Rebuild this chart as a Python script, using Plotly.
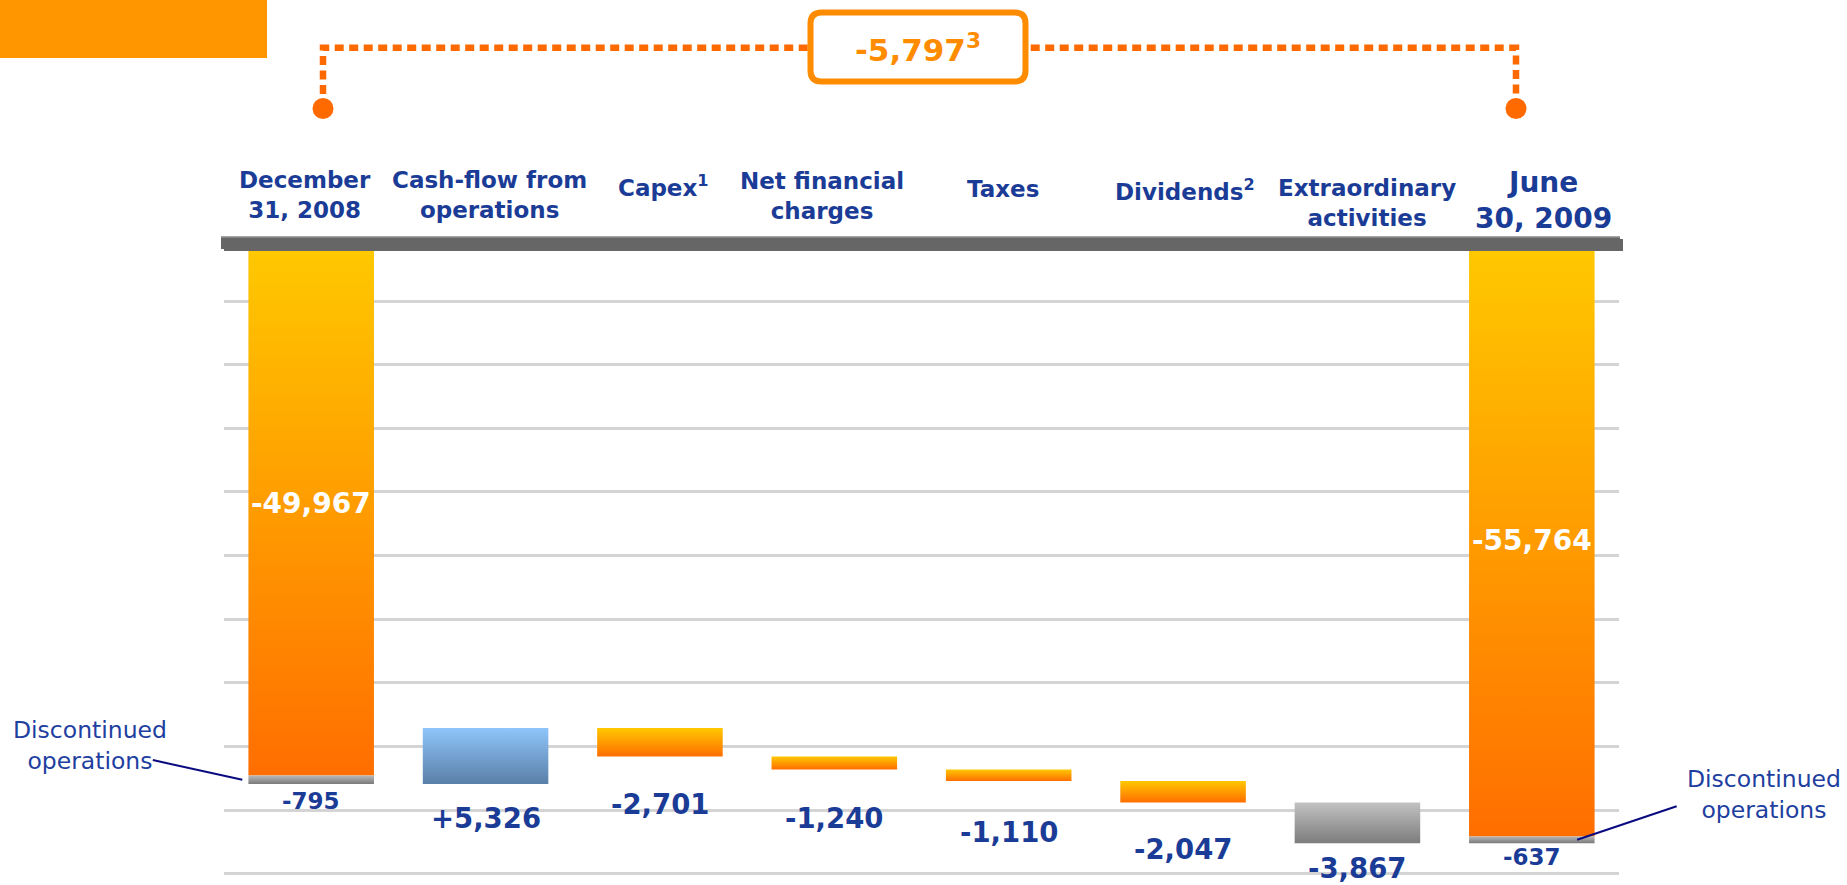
import plotly.graph_objects as go

# ---------------- data ----------------
categories = ["December<br>31, 2008", "Cash-flow from<br>operations", "Capex<sup>1</sup>",
              "Net financial<br>charges", "Taxes", "Dividends<sup>2</sup>",
              "Extraordinary<br>activities", "June<br>30, 2009"]
opening_debt = -49967
opening_discontinued = -795
flow_values = [5326, -2701, -1240, -1110, -2047, -3867]
closing_debt = -55764
closing_discontinued = -637

# ---------------- style / layout constants ----------------
W, H = 1847, 885
ML, MR, MT, MB = 224, 228, 236, 5
PW, PH = W - ML - MR, H - MT - MB
UNITS_PER_PX = 95.25
ZERO_PX = 251
y_top = (ZERO_PX - MT) * UNITS_PER_PX
y_bot = -(H - MB - ZERO_PX) * UNITS_PER_PX
grid_tick0 = -(301 - ZERO_PX) * UNITS_PER_PX
grid_dtick = 63.66 * UNITS_PER_PX
BW = 0.72

BLUE_TXT = "#1B3C96"
FONT = "DejaVu Sans"
flow_styles = ["blue", "orange", "orange", "orange", "orange", "gray"]
gradients = {
    "orange": [[0, "#FF6E00"], [1, "#FFC800"]],
    "blue": [[0, "#5A7FA8"], [1, "#8EC5FA"]],
    "gray": [[0, "#7C7C7C"], [1, "#C2C2C2"]],
    "disc": [[0, "#7A7A7A"], [1, "#B8B8B8"]],
}
label_offsets = [17, 34, 48, 49, 51, 46, 25, 14]      # px below bar bottom
cat_label_cy = [195, 195, 186, 196, 188.5, 190, 203, 200]   # px centers
cat_label_dx = [-6, 4, 4, -12, -6, 2, 10, 12]


def px_x(px):
    return (px - ML) / PW


def px_y(py):
    return (H - MB - py) / PH


# ---------------- build segments ----------------
segments = []  # (index, lo, hi, style)
segments.append((0, opening_debt, 0, "orange"))
segments.append((0, opening_debt + opening_discontinued, opening_debt, "disc"))
level = opening_debt + opening_discontinued
flow_bottoms = []
for i, v in enumerate(flow_values):
    new = level + v
    lo, hi = min(level, new), max(level, new)
    segments.append((i + 1, lo, hi, flow_styles[i]))
    flow_bottoms.append(lo)
    level = new
segments.append((7, closing_debt, 0, "orange"))
segments.append((7, closing_debt + closing_discontinued, closing_debt, "disc"))

fig = go.Figure()
for idx, lo, hi, style in segments:
    fig.add_trace(go.Scatter(
        x=[idx - BW / 2, idx + BW / 2, idx + BW / 2, idx - BW / 2, idx - BW / 2],
        y=[lo, lo, hi, hi, lo],
        mode="lines", fill="toself",
        line=dict(width=0, color="rgba(0,0,0,0)"),
        fillgradient=dict(type="vertical", colorscale=gradients[style]),
        hoverinfo="skip", showlegend=False,
    ))

annotations = []
# value labels under bars
val_labels = [(0, f"{opening_discontinued:,}", opening_debt + opening_discontinued, 23)]
for i, v in enumerate(flow_values):
    txt = f"{v:+,}" if v > 0 else f"{v:,}"
    val_labels.append((i + 1, txt, flow_bottoms[i], 27.5))
val_labels.append((7, f"{closing_discontinued:,}", closing_debt + closing_discontinued, 23))
for k, (idx, txt, bottom, size) in enumerate(val_labels):
    annotations.append(dict(
        x=idx, y=bottom, xref="x", yref="y", text=txt, showarrow=False,
        yanchor="middle", xanchor="center", yshift=-label_offsets[k],
        font=dict(family=FONT, size=size, color=BLUE_TXT, weight="bold")))

# white labels inside big bars
for idx, val, shift in [(0, opening_debt, 10), (7, closing_debt, 3)]:
    annotations.append(dict(
        x=idx, y=val / 2, xref="x", yref="y", text=f"{val:,}", showarrow=False,
        yanchor="middle", xanchor="center", yshift=shift,
        font=dict(family=FONT, size=28, color="white", weight="bold")))

# category labels
for i, cat in enumerate(categories):
    size = 28 if i == 7 else 23
    annotations.append(dict(
        x=i, y=px_y(cat_label_cy[i]), xref="x", yref="paper", text=cat,
        showarrow=False, xanchor="center", yanchor="middle", xshift=cat_label_dx[i],
        font=dict(family=FONT, size=size, color=BLUE_TXT, weight="bold")))

# total change label in box
annotations.append(dict(
    x=px_x(918), y=px_y(48), xref="paper", yref="paper",
    text=f"{closing_debt - opening_debt:,}<sup>3</sup>", showarrow=False,
    xanchor="center", yanchor="middle",
    font=dict(family=FONT, size=31, color="#FF8C00", weight="bold")))

# discontinued operations texts
for cx, cy in [(90, 745), (1764, 794)]:
    annotations.append(dict(
        x=px_x(cx), y=px_y(cy), xref="paper", yref="paper",
        text="Discontinued<br>operations", showarrow=False,
        xanchor="center", yanchor="middle", align="center",
        font=dict(family=FONT, size=23.5, color="#1E3FA0")))

# leader lines
annotations.append(dict(
    x=0 - BW / 2 - 0.035, y=opening_debt + opening_discontinued / 2,
    xref="x", yref="y", text="", showarrow=True, arrowhead=0, arrowwidth=2,
    arrowcolor="#0A0A80", ax=-91, ay=-20, standoff=0, startstandoff=0))
annotations.append(dict(
    x=7 + BW / 2 - 0.1, y=closing_debt + closing_discontinued / 2,
    xref="x", yref="y", text="", showarrow=True, arrowhead=0, arrowwidth=2,
    arrowcolor="#0A0A80", ax=101, ay=-34, standoff=0, startstandoff=0))

shapes = []
# orange header block
shapes.append(dict(type="rect", xref="paper", yref="paper",
                   x0=px_x(0), x1=px_x(267), y0=px_y(58), y1=px_y(0),
                   fillcolor="#FF9600", line=dict(width=0)))
# gray top bar
shapes.append(dict(type="rect", xref="paper", yref="paper",
                   x0=px_x(224), x1=px_x(1623), y0=px_y(251), y1=px_y(239),
                   fillcolor="#666666", line=dict(width=0)))
shapes.append(dict(type="rect", xref="paper", yref="paper",
                   x0=px_x(221), x1=px_x(1620), y0=px_y(249), y1=px_y(236),
                   fillcolor="#666666", line=dict(width=0)))
shapes.append(dict(type="line", xref="paper", yref="paper",
                   x0=px_x(221), x1=px_x(1620), y0=px_y(236.7), y1=px_y(236.7),
                   line=dict(width=1.5, color="#A5A5A5")))
# dotted bracket
path = (f"M {px_x(323)},{px_y(94)} L {px_x(323)},{px_y(47.7)} "
        f"L {px_x(1516)},{px_y(47.7)} L {px_x(1516)},{px_y(94)}")
shapes.append(dict(type="path", xref="paper", yref="paper", path=path,
                   line=dict(width=6.5, color="#FF6A00", dash="9px,5.5px")))
# rounded box
x0, x1, y0, y1, r = 810.5, 1025.5, 12.5, 81.5, 11
def P(x, y):
    return f"{px_x(x)},{px_y(y)}"
box = (f"M {P(x0 + r, y0)} L {P(x1 - r, y0)} Q {P(x1, y0)} {P(x1, y0 + r)} "
       f"L {P(x1, y1 - r)} Q {P(x1, y1)} {P(x1 - r, y1)} "
       f"L {P(x0 + r, y1)} Q {P(x0, y1)} {P(x0, y1 - r)} "
       f"L {P(x0, y0 + r)} Q {P(x0, y0)} {P(x0 + r, y0)} Z")
shapes.append(dict(type="path", xref="paper", yref="paper", path=box,
                   fillcolor="white", line=dict(width=6, color="#FF8C00")))
# end dots
for cx in (323, 1516):
    shapes.append(dict(type="circle", xref="paper", yref="paper",
                       x0=px_x(cx - 10.5), x1=px_x(cx + 10.5),
                       y0=px_y(108.5 + 10.5), y1=px_y(108.5 - 10.5),
                       fillcolor="#FF6A00", line=dict(width=0)))

fig.update_layout(
    width=W, height=H, autosize=False,
    margin=dict(l=ML, r=MR, t=MT, b=MB, pad=0),
    paper_bgcolor="white", plot_bgcolor="white",
    font=dict(family=FONT),
    xaxis=dict(range=[-0.5, 7.5], visible=False, fixedrange=True),
    yaxis=dict(range=[y_bot, y_top], showgrid=True, gridcolor="#D4D4D4", gridwidth=2.5,
               tick0=grid_tick0, dtick=grid_dtick, showticklabels=False,
               zeroline=False, showline=False, ticks="", fixedrange=True),
    annotations=annotations, shapes=shapes, showlegend=False,
)

fig.write_html("out.html", config={"displayModeBar": False},
               post_script="document.body.style.margin='0';document.body.style.overflow='hidden';")
